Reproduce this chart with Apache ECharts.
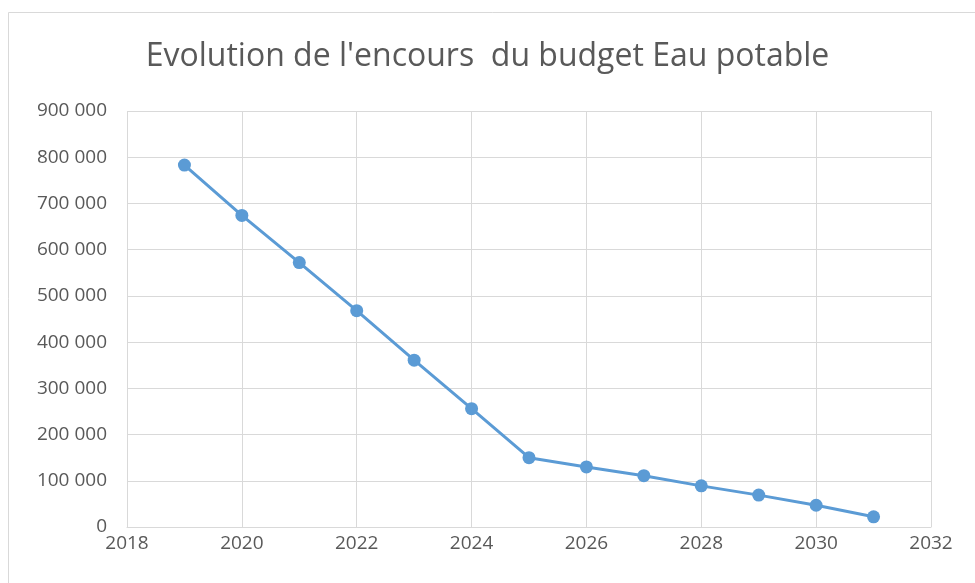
<!doctype html>
<html lang="fr">
<head>
<meta charset="utf-8">
<title>Evolution de l'encours du budget Eau potable</title>
<script src="https://cdn.jsdelivr.net/npm/echarts@6/dist/echarts.min.js"></script>
<style>
  html, body { margin: 0; padding: 0; background: #fff; }
  #chart { width: 975px; height: 583px; }
</style>
</head>
<body>
<div id="chart"></div>
<script>
// data
var years = [2019, 2020, 2021, 2022, 2023, 2024, 2025, 2026, 2027, 2028, 2029, 2030, 2031];
var encours = [783000, 674000, 572000, 468000, 361000, 256000, 150000, 130000, 111000, 89000, 69000, 47000, 22000];
var titleText = "Evolution de l'encours  du budget Eau potable";

function fmtThousands(v) {
    return String(v).replace(/\B(?=(\d{3})+(?!\d))/g, ' ');
}

var points = years.map(function (y, i) { return [y, encours[i]]; });

var myChart = echarts.init(document.getElementById('chart'));
myChart.setOption({
    animation: false,
    backgroundColor: '#fff',
    title: {
        text: titleText,
        left: 'center',
        top: 36,
        textStyle: { fontFamily: 'Open Sans', fontSize: 32, fontWeight: 'normal', color: '#595959' }
    },
    graphic: [{
        type: 'rect',
        shape: { x: 8.5, y: 12.5, width: 975, height: 575 },
        style: { fill: 'none', stroke: '#d9d9d9', lineWidth: 1 },
        silent: true
    }],
    grid: { left: 127, right: 44, top: 111, bottom: 56 },
    xAxis: {
        type: 'value',
        min: 2018,
        max: 2032,
        interval: 2,
        axisLine: { show: true, lineStyle: { color: '#d9d9d9' } },
        axisTick: { show: false },
        axisLabel: { color: '#595959', fontFamily: 'Open Sans', fontSize: 19, margin: 7, formatter: function (v) { return String(v); } },
        splitLine: { show: true, lineStyle: { color: '#d9d9d9' } }
    },
    yAxis: {
        type: 'value',
        min: 0,
        max: 900000,
        interval: 100000,
        axisLine: { show: false },
        axisTick: { show: false },
        axisLabel: { color: '#595959', fontFamily: 'Open Sans', fontSize: 19, margin: 20, formatter: fmtThousands },
        splitLine: { show: true, lineStyle: { color: '#d9d9d9' } }
    },
    series: [{
        name: 'Encours',
        type: 'line',
        data: points,
        symbol: 'circle',
        symbolSize: 13,
        lineStyle: { color: '#5b9bd5', width: 3 },
        itemStyle: { color: '#5b9bd5' }
    }]
});
</script>
</body>
</html>
